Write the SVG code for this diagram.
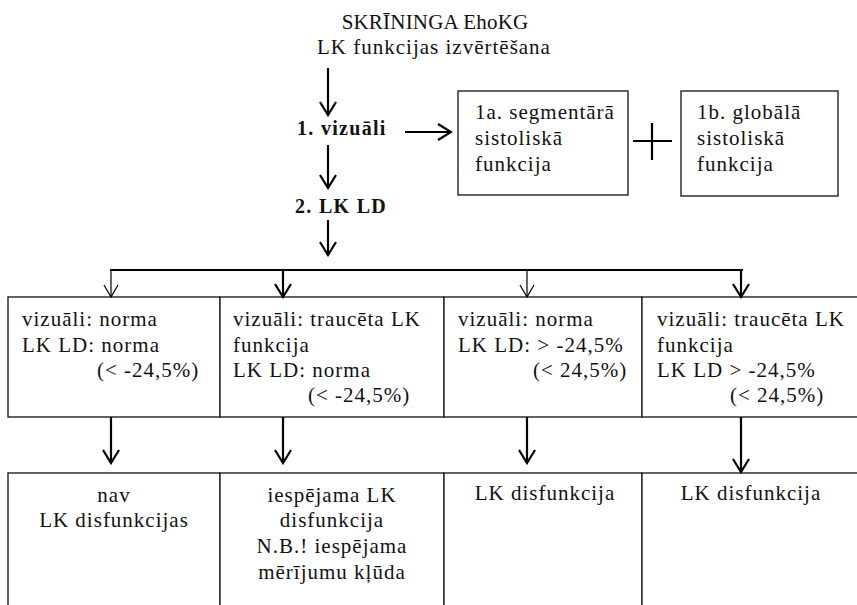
<svg xmlns="http://www.w3.org/2000/svg" width="857" height="605" viewBox="0 0 857 605">
<style>
text{font-family:"Liberation Serif","Times New Roman",serif;font-size:21px;fill:#111;letter-spacing:1px}
.b{font-size:20px;font-weight:bold;letter-spacing:1.3px}
.t0{letter-spacing:0.2px}
.m{text-anchor:middle}
.box{fill:#fff;stroke:#222;stroke-width:1.4}
.thick{stroke:#000;stroke-width:2.2;fill:none}
.thin{stroke:#000;stroke-width:1.2;fill:none}
</style>
<defs>
<marker id="ah" viewBox="0 0 16 18" refX="14" refY="9" markerWidth="16" markerHeight="18" markerUnits="userSpaceOnUse" orient="auto">
<path d="M1,1 L14,9 L1,17" fill="none" stroke="#000" stroke-width="2.2"/>
</marker>
<marker id="ahThin" viewBox="0 0 16 18" refX="14" refY="9" markerWidth="16" markerHeight="18" markerUnits="userSpaceOnUse" orient="auto">
<path d="M2,2 L14,9 L2,16" fill="none" stroke="#000" stroke-width="1.2"/>
</marker>
</defs>
<rect width="857" height="605" fill="#fff"/>

<g id="title">
<text class="m t0" x="435" y="29">SKRĪNINGA EhoKG</text>
<text class="m" x="434" y="54">LK funkcijas izvērtēšana</text>
</g>
<g id="step1"><text class="b" x="297" y="135">1. vizuāli</text></g>
<g id="step2"><text class="b" x="295" y="213">2. LK LD</text></g>

<g id="box1a">
<rect class="box" x="458" y="91" width="170" height="104"/>
<text x="475" y="119">1a. segmentārā</text>
<text x="475" y="145">sistoliskā</text>
<text x="475" y="171">funkcija</text>
</g>
<g id="plus">
<line class="thick" x1="633" y1="141" x2="672" y2="141"/>
<line class="thick" x1="652" y1="123" x2="652" y2="160"/>
</g>
<g id="box1b">
<rect class="box" x="681" y="91" width="157" height="105"/>
<text x="697" y="119">1b. globālā</text>
<text x="697" y="145">sistoliskā</text>
<text x="697" y="171">funkcija</text>
</g>

<g id="cond1">
<rect class="box" x="8" y="297" width="212" height="120"/>
<text x="22" y="326">vizuāli: norma</text>
<text x="22" y="352">LK LD: norma</text>
<text x="97" y="377">(&lt; -24,5%)</text>
</g>
<g id="cond2">
<rect class="box" x="220" y="297" width="224" height="120"/>
<text x="233" y="326">vizuāli: traucēta LK</text>
<text x="233" y="352">funkcija</text>
<text x="233" y="377">LK LD: norma</text>
<text x="308" y="402">(&lt; -24,5%)</text>
</g>
<g id="cond3">
<rect class="box" x="444" y="297" width="198" height="120"/>
<text x="458" y="326">vizuāli: norma</text>
<text x="458" y="352">LK LD: &gt; -24,5%</text>
<text x="533" y="377">(&lt; 24,5%)</text>
</g>
<g id="cond4">
<rect class="box" x="642" y="297" width="218" height="120"/>
<text x="657" y="326">vizuāli: traucēta LK</text>
<text x="657" y="352">funkcija</text>
<text x="657" y="377">LK LD &gt; -24,5%</text>
<text x="730" y="402">(&lt; 24,5%)</text>
</g>

<g id="res1">
<rect class="box" x="8" y="473" width="212" height="140"/>
<text class="m" x="114" y="502">nav</text>
<text class="m" x="114" y="527">LK disfunkcijas</text>
</g>
<g id="res2">
<rect class="box" x="220" y="473" width="224" height="140"/>
<text class="m" x="332" y="502">iespējama LK</text>
<text class="m" x="332" y="527">disfunkcija</text>
<text class="m" x="332" y="553">N.B.! iespējama</text>
<text class="m" x="332" y="579">mērījumu kļūda</text>
</g>
<g id="res3">
<rect class="box" x="444" y="473" width="198" height="140"/>
<text class="m" x="545" y="500">LK disfunkcija</text>
</g>
<g id="res4">
<rect class="box" x="642" y="473" width="218" height="140"/>
<text class="m" x="751" y="500">LK disfunkcija</text>
</g>

<g id="connectors">
<line class="thick" x1="328" y1="68" x2="328" y2="115" marker-end="url(#ah)"/>
<line class="thick" x1="405" y1="132" x2="451" y2="132" marker-end="url(#ah)"/>
<line class="thick" x1="328" y1="145" x2="328" y2="188" marker-end="url(#ah)"/>
<line class="thick" x1="328" y1="220" x2="328" y2="255" marker-end="url(#ah)"/>
<polyline class="thick" points="111,271 111,270 742,270 742,271"/>
<line class="thin" x1="111" y1="270" x2="111" y2="297" marker-end="url(#ahThin)"/>
<line class="thick" x1="283" y1="270" x2="283" y2="297" marker-end="url(#ah)"/>
<line class="thin" x1="527" y1="270" x2="527" y2="297" marker-end="url(#ahThin)"/>
<line class="thick" x1="741" y1="270" x2="741" y2="297" marker-end="url(#ah)"/>
<line class="thick" x1="111" y1="417" x2="111" y2="463" marker-end="url(#ah)"/>
<line class="thick" x1="283" y1="417" x2="283" y2="463" marker-end="url(#ah)"/>
<line class="thick" x1="527" y1="417" x2="527" y2="463" marker-end="url(#ah)"/>
<line class="thick" x1="741" y1="417" x2="741" y2="472" marker-end="url(#ah)"/>
</g>
</svg>
